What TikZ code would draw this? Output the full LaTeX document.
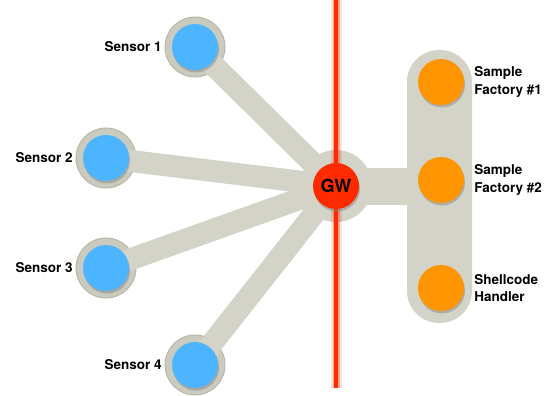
\documentclass[tikz,border=0pt]{standalone}
\usepackage{fontspec}
\setmainfont{TeX Gyre Heros}
\usetikzlibrary{shadows}
\definecolor{sensorblue}{HTML}{4DB4FF}
\definecolor{factoryorange}{HTML}{FF9500}
\definecolor{gwred}{HTML}{FF2A00}
\definecolor{linkgray}{HTML}{D3D3C8}
\definecolor{halogray}{HTML}{CACABE}
\definecolor{haloedge}{HTML}{B8B8AA}
\begin{document}
\begin{tikzpicture}[x=1pt,y=-1pt,
  dot/.style={circle, inner sep=0pt, minimum size=46pt,
    drop shadow={shadow xshift=1pt, shadow yshift=-2.5pt, opacity=0.45}},
  sensordot/.style={dot, fill=sensorblue},
  factorydot/.style={dot, fill=factoryorange},
  halo/.style={circle, inner sep=0pt, minimum size=60pt, fill=halogray, draw=haloedge, line width=1pt},
  link/.style={linkgray, line width=22pt},
  lbl/.style={font=\bfseries\fontsize{13.5}{17.5}\selectfont, inner sep=0pt, align=left},
]
\useasboundingbox (0,0) rectangle (547,396);

% hubs and their halos
\node[halo] (h1) at (195,47) {};
\node[halo] (h2) at (106,158) {};
\node[halo] (h3) at (106,268) {};
\node[halo] (h4) at (195,365) {};
\node[circle, inner sep=0pt, minimum size=72pt, fill=linkgray] (hgw) at (336,186) {};

% sensor links
\draw[link] (h1.center) -- (hgw.center);
\draw[link] (h2.center) -- (hgw.center);
\draw[link] (h3.center) -- (hgw.center);
\draw[link] (h4.center) -- (hgw.center);

% factory group
\node[draw=none, fill=linkgray, rounded corners=32pt, minimum width=65pt, minimum height=273pt, inner sep=0pt] (grp) at (439.5,186.5) {};
\fill[linkgray] (hgw.center) ++(0,-18.5) rectangle (grp.west |- 0,204.5);

% boundary line with glow
\coordinate (rtop) at (336,0);
\coordinate (rbot) at (336,388);
\draw[gwred, opacity=0.15, line width=11pt] (rtop) -- (rbot);
\draw[gwred, opacity=0.3, line width=7pt] (rtop) -- (rbot);
\draw[gwred, line width=3.2pt] (rtop) -- (rbot);

% nodes
\node[sensordot] (s1) at (h1) {};
\node[sensordot] (s2) at (h2) {};
\node[sensordot] (s3) at (h3) {};
\node[sensordot] (s4) at (h4) {};
\node[dot, fill=gwred, font=\bfseries\fontsize{18}{20}\selectfont] (gw) at (hgw) {GW};
\node[factorydot] (f1) at (441,82) {};
\node[factorydot] (f2) at (441,180) {};
\node[factorydot] (f3) at (441,288) {};

% labels
\node[lbl, anchor=east] (l1) at ([xshift=-10pt]s1.west) {Sensor 1};
\node[lbl, anchor=east] (l2) at ([xshift=-10pt]s2.west) {Sensor 2};
\node[lbl, anchor=east] (l3) at ([xshift=-10pt]s3.west) {Sensor 3};
\node[lbl, anchor=east] (l4) at ([xshift=-10pt]s4.west) {Sensor 4};
\node[lbl, anchor=west] (l5) at ([xshift=10pt]f1.east) {Sample\\Factory \#1};
\node[lbl, anchor=west] (l6) at ([xshift=10pt]f2.east) {Sample\\Factory \#2};
\node[lbl, anchor=west] (l7) at ([xshift=10pt]f3.east) {Shellcode\\Handler};
\end{tikzpicture}
\end{document}
